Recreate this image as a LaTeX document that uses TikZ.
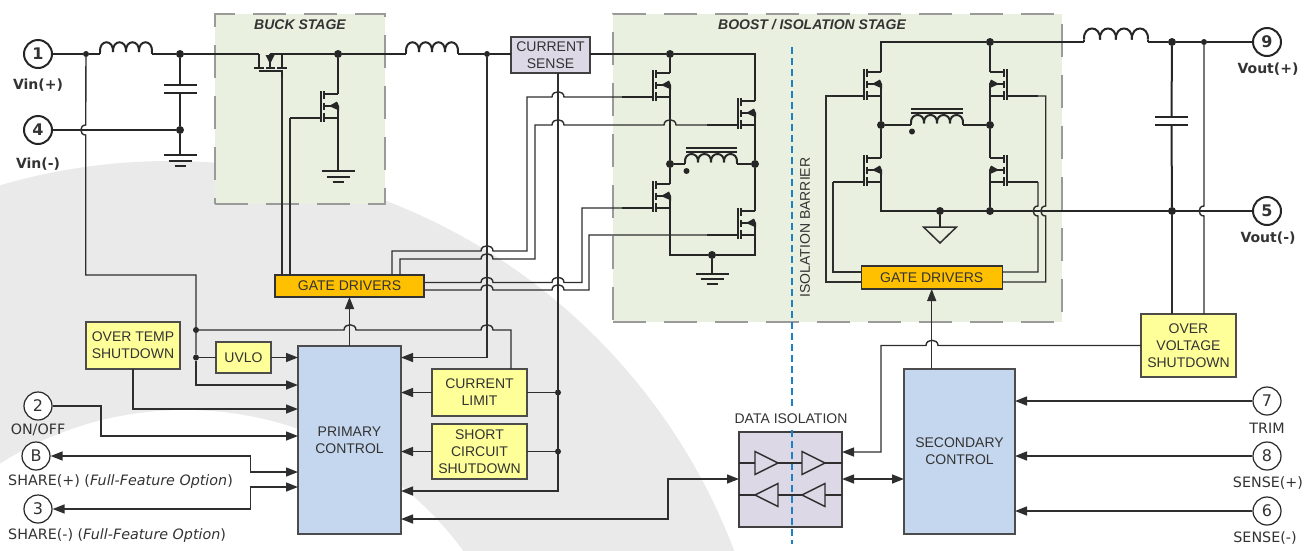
\documentclass[tikz,border=0pt]{standalone}
\usepackage{fontspec}
\setmainfont{Liberation Sans}
\newfontfamily\lblfont{DejaVu Sans}
\usetikzlibrary{arrows.meta}
\definecolor{wirecol}{HTML}{262626}
\definecolor{sigcol}{HTML}{2E2E2E}
\definecolor{txtcol}{HTML}{333333}
\definecolor{bgshade}{HTML}{EAEAEA}
\definecolor{stagecol}{HTML}{E9F0DF}
\definecolor{dashcol}{HTML}{9A9A9A}
\definecolor{drvcol}{HTML}{FFC000}
\definecolor{ctlcol}{HTML}{C5D7EF}
\definecolor{warncol}{HTML}{FFFF99}
\definecolor{senscol}{HTML}{DDD8E6}
\definecolor{isocol}{HTML}{1F7FC4}
\newcommand{\hopx}[2]{-- (#1-6,#2) .. controls (#1-6,#2-7) and (#1+6,#2-7) .. (#1+6,#2)}
\newcommand{\hopy}[2]{-- (#1,#2-5) .. controls (#1-6.5,#2-5) and (#1-6.5,#2+5) .. (#1,#2+5)}
\tikzset{
  >={Triangle[length=12pt,width=9pt]},
  pwr/.style={draw=wirecol,line width=2pt},
  sig/.style={draw=sigcol,line width=1.4pt},
  dot/.style={circle,fill=wirecol,inner sep=0,minimum size=8pt},
  smalldot/.style={circle,fill=wirecol,inner sep=0,minimum size=6pt},
  blocktxt/.style={inner sep=0,outer sep=0,align=center,text=txtcol,font=\fontsize{14}{17}\selectfont},
  drvbox/.style={blocktxt,draw=black!80,line width=1.2pt,fill=drvcol},
  ctlbox/.style={blocktxt,draw=black!70,line width=1.3pt,fill=ctlcol},
  warnbox/.style={blocktxt,draw=black!70,line width=1.3pt,fill=warncol},
  sensbox/.style={blocktxt,draw=black!75,line width=1.3pt,fill=senscol},
  stage/.style={draw=dashcol,line width=2pt,dash pattern=on 33pt off 18pt,fill=stagecol,inner sep=0},
  stagetitle/.style={text=txtcol,inner sep=0,font=\fontsize{14}{17}\selectfont\bfseries\itshape},
  termbold/.style={circle,draw=wirecol,line width=2pt,fill=white,inner sep=0,minimum size=28pt,text=txtcol,font=\lblfont\fontsize{16}{16}\selectfont\bfseries},
  termthin/.style={circle,draw=wirecol,line width=1.2pt,fill=white,inner sep=0,minimum size=28pt,text=txtcol,font=\lblfont\fontsize{16}{16}\selectfont},
  pinbold/.style={inner sep=0,text=txtcol,font=\lblfont\fontsize{14}{17}\selectfont\bfseries},
  pinthin/.style={inner sep=0,text=txtcol,font=\lblfont\fontsize{14.3}{17}\selectfont},
  isoline/.style={draw=isocol,line width=2pt,dash pattern=on 7pt off 4pt},
  pics/nfet/.style={code={
    \draw[pwr] (0,0) -- (-14,0);
    \draw[pwr] (-14,-3) -- (-14,5) (-14,8.5) -- (-14,15.5) (-14,19) -- (-14,28);
    \draw[pwr] (-17,-3) -- (-17,28);
    \draw[pwr] (-14,12) -- (-6,12);
    \fill[wirecol] (-9,12) -- (-1,7.5) -- (1,12) -- (1,16.5) -- cycle;
    \draw[pwr] (0,12) -- (0,24) -- (-14,24);
    \draw[pwr] (-17,24) -- (-48,24);
    \coordinate (-d) at (0,0);
    \coordinate (-s) at (0,24);
    \coordinate (-g) at (-48,24);
  }},
  pics/buckfet/.style={code={
    \draw[pwr] (-11,0) -- (-11,14) (12,0) -- (12,14) (0,0) -- (0,14);
    \draw[pwr] (-16,14) -- (-6,14) (-4,14) -- (5,14) (7,14) -- (17,14);
    \draw[pwr] (-11,17) -- (12,17) -- (12,23);
    \fill[wirecol] (-4.5,1) -- (4.5,1) -- (0,10) -- cycle;
    \coordinate (-s) at (-11,0);
    \coordinate (-c) at (0,0);
    \coordinate (-g) at (12,23);
  }},
  pics/coil/.style={code={
    \foreach \i in {0,1,2,3} {
      \draw[pwr] (13*\i,-2) .. controls (13*\i-1,-15) and (13*\i+14,-15) .. (13*\i+13,-2);
    }
    \draw[pwr] (0,0) -- (0,-2) (52,0) -- (52,-2);
    \coordinate (-a) at (0,0);
    \coordinate (-b) at (52,0);
  }},
  pics/capac/.style={code={
    \draw[pwr] (-16.5,-4) -- (16.5,-4) (-16.5,4) -- (16.5,4);
    \coordinate (-a) at (0,-4);
    \coordinate (-b) at (0,4);
  }},
  pics/gnd/.style={code={
    \draw[pwr] (-16.5,0) -- (16.5,0) (-11.5,5.5) -- (11.5,5.5) (-5.5,11) -- (5.5,11);
    \coordinate (-t) at (0,0);
  }},
}
\begin{document}
\begin{tikzpicture}[x=1pt,y=-1pt]
    \useasboundingbox (0,0) rectangle (1315,550);
    \begin{scope}
      \clip (0,0) rectangle (1315,550);
      \fill[bgshade] (170,764) circle (603pt);
      \fill[white] (185,755) circle (345pt);
    \end{scope}

    \node[stage,minimum width=170pt,minimum height=190pt](buck) at (300,109){};
    \node[stage,minimum width=449pt,minimum height=308pt](boost) at (837.5,168){};
    \node[stagetitle](bucktitle) at (300,25){BUCK STAGE};
    \node[stagetitle](boosttitle) at (812,25){BOOST / ISOLATION STAGE};

    \node[termbold](t1) at (38,54){1};
    \node[termbold](t4) at (38,130){4};
    \node[termbold](t9) at (1267,42){9};
    \node[termbold](t5) at (1267,211){5};
    \node[termthin](t2) at (38,406){2};
    \node[termthin](tb) at (36,456){B};
    \node[termthin](t3) at (38,509){3};
    \node[termthin](t7) at (1267,401){7};
    \node[termthin](t8) at (1267,456){8};
    \node[termthin](t6) at (1267,511){6};

    \node[pinbold](vinp) at (38,85){Vin(+)};
    \node[pinbold](vinn) at (38,164){Vin(-)};
    \node[pinbold](voutp) at (1268,69){Vout(+)};
    \node[pinbold](voutn) at (1268,238){Vout(-)};
    \node[pinthin](lonoff) at (38,430){ON/OFF};
    \node[pinthin,anchor=west](lsharep) at (8,482){SHARE(+) (\textit{Full-Feature Option})};
    \node[pinthin,anchor=west](lsharen) at (8,536){SHARE(-) (\textit{Full-Feature Option})};
    \node[pinthin](ltrim) at (1267,428){TRIM};
    \node[pinthin](lsensep) at (1268,483){SENSE(+)};
    \node[pinthin](lsensen) at (1265,538){SENSE(-)};

    \node[sensbox,minimum width=79pt,minimum height=36pt,line width=2pt](csense) at (550.5,55){CURRENT\\SENSE};
    \node[drvbox,minimum width=149pt,minimum height=22pt](gda) at (349.5,286){GATE DRIVERS};
    \node[drvbox,minimum width=141pt,minimum height=23pt](gdb) at (931.7,277.5){GATE DRIVERS};
    \node[ctlbox,minimum width=103pt,minimum height=188pt](prim) at (349.5,440){PRIMARY\\CONTROL};
    \node[ctlbox,minimum width=111pt,minimum height=165pt](sec) at (959.5,451.5){SECONDARY\\CONTROL};
    \node[warnbox,minimum width=94pt,minimum height=47pt](otemp) at (133,345.5){OVER TEMP\\SHUTDOWN};
    \node[warnbox,minimum width=55pt,minimum height=31pt](uvlo) at (243.5,357.5){UVLO};
    \node[warnbox,minimum width=95pt,minimum height=47pt](climit) at (479.5,392.5){CURRENT\\LIMIT};
    \node[warnbox,minimum width=95pt,minimum height=55pt](scirc) at (479.5,451.5){SHORT\\CIRCUIT\\SHUTDOWN};
    \node[warnbox,minimum width=95pt,minimum height=63pt](ovp) at (1188.5,345.5){OVER\\VOLTAGE\\SHUTDOWN};
    \node[sensbox,minimum width=103pt,minimum height=95pt](diso) at (790.5,479.5){};
    \node[blocktxt](disotitle) at (791,419){DATA ISOLATION};
    \node[blocktxt,rotate=90](isotxt) at (805,227.5){ISOLATION BARRIER};

    \coordinate (isoa) at (791.5,47);
    \coordinate (isob) at (791.5,407);
    \coordinate (isoc) at (791.5,430);
    \coordinate (isod) at (791.5,544);
    \draw[isoline] (isoa) -- (isob);
    \draw[isoline] (isoc) -- (isod);

    \foreach \x in {755,802} {
      \draw[sig] (\x,463) -- ++(0,-11.5) -- ++(23,11.5) -- ++(-23,11.5) -- cycle;
      \draw[sig] (\x+23,495) -- ++(0,-11.5) -- ++(-23,11.5) -- ++(23,11.5) -- cycle;
    }
    \foreach \a/\b in {739/755,778/802,825/842} {
      \draw[sig] (\a,463) -- (\b,463);
      \draw[sig] (\a,495) -- (\b,495);
    }

    \foreach \n/\p in {jb/{180,54},jc/{180,130},jd/{338,54},jf/{670,54},jg/{670,164},ji/{755,164},jh/{712,255},jk/{881,125},jm/{990,125},jn/{990,42},jp/{990,211},jq/{940,211},jr/{1172,42},js/{1172,211}} {
      \node[dot](\n) at (\p){};
    }
    \foreach \n/\p in {ja/{86,54},je/{487,54},jo/{1204,42},jt/{196,330},ju/{196,357.5},jv/{558,392.5},jw/{558,451.5}} {
      \node[smalldot](\n) at (\p){};
    }

    \pic (la) at (100,54) {coil};
    \pic (lb) at (406,54) {coil};
    \pic[xscale=1.23,yscale=1.15] (lc) at (1084,42) {coil};
    \pic[yscale=0.85] (tra) at (685,164) {coil};
    \pic[yscale=0.85] (trb) at (911,125) {coil};
    \pic (ca) at (180,88.5) {capac};
    \pic (cb) at (1171.5,121) {capac};
    \pic (ga) at (180,155) {gnd};
    \pic (gb) at (338,171) {gnd};
    \pic[yscale=0.95] (gc) at (712,274) {gnd};
    \pic (qo) at (270,54) {buckfet};
    \pic (qp) at (338,94) {nfet};
    \pic (qa) at (670,73) {nfet};
    \pic (qb) at (755,101) {nfet};
    \pic (qc) at (670,184) {nfet};
    \pic (qd) at (755,211) {nfet};
    \pic (qe) at (881,72) {nfet};
    \pic[xscale=-1] (qf) at (990,72) {nfet};
    \pic (qg) at (881,158) {nfet};
    \pic[xscale=-1] (qh) at (990,158) {nfet};

    \draw[pwr] (t1) -- (ja) -- (la-a);
    \draw[pwr] (la-b) -- (jb) -- (qo-s);
    \draw[pwr] (qo-c) -- (jd) -- (lb-a);
    \draw[pwr] (lb-b) -- (je) -- (je -| csense.west);
    \draw[pwr] (jb) -- (ca-a);
    \draw[pwr] (ca-b) -- (jc) -- (ga-t);
    \draw[pwr] (t4) -- (jc);
    \draw[pwr] (jd) -- (qp-d);
    \draw[pwr] (qp-s) -- (gb-t);

    \draw[pwr] (jf -| csense.east) -- (jf) -| (qb-d);
    \draw[pwr] (jf) -- (qa-d);
    \draw[pwr] (qa-s) -- (jg) -- (qc-d);
    \draw[pwr] (qb-s) -- (ji) -- (qd-d);
    \draw[pwr] (jg) -- (tra-a);
    \draw[pwr] (tra-b) -- (ji);
    \draw[pwr] (qc-s) |- (jh);
    \draw[pwr] (qd-s) |- (jh);
    \draw[pwr] (jh) -- (gc-t);
    \draw[pwr] (686,148) -- (737,148) (686,152) -- (737,152);
    \node[circle,fill=wirecol,inner sep=0,minimum size=6pt](pola) at (686.5,171){};

    \draw[pwr] (qe-d) |- (jn);
    \draw[pwr] (jn) -- (qf-d);
    \draw[pwr] (jn) -- (lc-a);
    \draw[pwr] (lc-b) -- (jr) -- (jo) -- (t9);
    \draw[pwr] (qe-s) -- (jk) -- (qg-d);
    \draw[pwr] (qf-s) -- (jm) -- (qh-d);
    \draw[pwr] (jk) -- (trb-a);
    \draw[pwr] (trb-b) -- (jm);
    \draw[pwr] (qg-s) |- (t5);
    \draw[pwr] (qh-s) -- (jp);
    \draw[pwr] (jr) -- (cb-a);
    \draw[pwr] (cb-b) -- (js);
    \draw[pwr] (911,109) -- (963,109) (911,113) -- (963,113);
    \node[circle,fill=wirecol,inner sep=0,minimum size=6pt](polb) at (912,131.5){};

    \coordinate (gnda) at (940,227);
    \draw[pwr] (jq) -- (gnda);
    \draw[sig,line width=1.5pt] (gnda) -- ++(-16.5,0) -- ++(16.5,16) -- ++(16.5,-16) -- cycle;

    \draw[sig] (qo-g) -- (qo-g |- gda.north);
    \draw[sig] (qp-g) -| (qp-g |- gda.north);
    \draw[sig] (392,275) -- (392,251) \hopx{487}{251} -- (527,251) -- (527,97) \hopx{558}{97} -- (qa-g);
    \draw[sig] (400,275) -- (400,259) \hopx{487}{259} -- (535,259) -- (535,125) \hopx{558}{125} \hopx{670}{125} -- (qb-g);
    \draw[sig] (gda.east |- 0,282.5) \hopx{487}{282.5} \hopx{558}{282.5} -- (582,282.5) |- (qc-g);
    \draw[sig] (gda.east |- 0,290) \hopx{487}{290} \hopx{558}{290} -- (589,290) |- (qd-g);

    \draw[sig] (qe-g) -- (826,96) |- (gdb.west |- 0,282);
    \draw[sig] (qg-g) |- (gdb.west |- 0,272);
    \draw[sig] (qf-g) -- (1045.7,96) \hopy{1045.7}{211} |- (gdb.east |- 0,282);
    \draw[sig] (qh-g) \hopy{1038}{211} |- (gdb.east |- 0,272);

    \draw[sig] (ja) \hopy{85.7}{130} -- (85.7,275) -| (ju);
    \draw[sig,->] (ju) |- (prim.west |- 0,385);
    \draw[sig] (jt) \hopx{350}{330} \hopx{487}{330} -| (climit.north -| 511,0);
    \draw[sig] (ju) -- (uvlo.west);
    \draw[sig,->] (uvlo.east) -- (uvlo.east -| prim.west);
    \draw[sig,->] (otemp.south) |- (prim.west |- 0,409);
    \draw[sig,->] (prim.north) -- (gda.south);
    \draw[sig,->] (t2) -- (101,406) |- (prim.west |- 0,436);
    \draw[sig,<->] (tb) -- (250.5,456) |- (prim.west |- 0,472);
    \draw[sig,<->] (t3) -- (250.5,509) |- (prim.west |- 0,487);

    \draw[sig,->] (je) |- (prim.east |- uvlo);
    \draw[sig,->] (jv |- csense.south) |- (prim.east |- 0,491);
    \draw[sig,->] (climit.west) -- (climit.west -| prim.east);
    \draw[sig,->] (scirc.west) -- (scirc.west -| prim.east);
    \draw[sig] (climit.east) -- (jv);
    \draw[sig] (scirc.east) -- (jw);
    \draw[sig,<->] (prim.east |- 0,519) -| (668,479) -- (diso.west |- 0,479);

    \draw[sig,<->] (diso.east |- 0,479) -- (sec.west |- 0,479);
    \draw[sig,<-] (diso.east |- 0,452) -- (881,452) -- (881,345.5) \hopx{932}{345.5} -- (ovp.west);
    \draw[sig,->] (gdb.south |- sec.north) -- (gdb.south);
    \draw[sig,->] (t7) -- (t7 -| sec.east);
    \draw[sig,->] (t8) -- (t8 -| sec.east);
    \draw[sig,->] (t6) -- (t6 -| sec.east);
    \draw[sig] (js) -- (js |- ovp.north);
    \draw[sig] (jo) \hopy{1204}{211} -- (jo |- ovp.north);
\end{tikzpicture}
\end{document}
